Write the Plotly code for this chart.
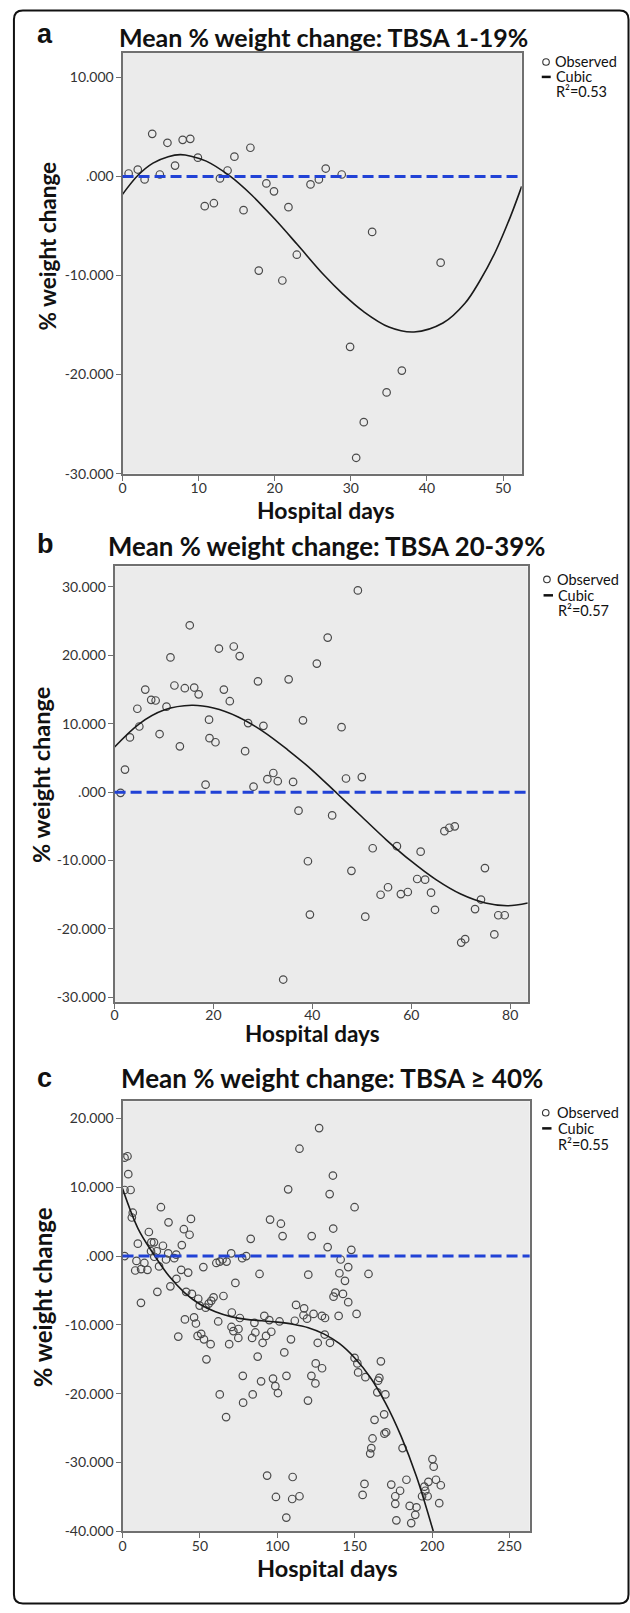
import plotly.graph_objects as go

W, H = 630, 1613

# ---------------- Panel a: TBSA 1-19% ----------------
days_a = [0.8, 2.0, 2.9, 3.9, 4.9, 5.9, 6.9, 7.9, 8.9, 9.9, 10.8, 12.0, 12.8, 13.8, 14.7,
          15.9, 16.8, 17.9, 18.9, 19.9, 21.0, 21.8, 22.9, 24.7, 25.8, 26.7, 28.8, 32.8,
          41.8, 29.9, 36.7, 34.7, 31.7, 30.7]
change_a = [0.3, 0.7, -0.3, 4.3, 0.2, 3.4, 1.1, 3.7, 3.8, 1.9, -3.0, -2.7, -0.2, 0.6, 2.0,
            -3.4, 2.9, -9.5, -0.7, -1.5, -10.5, -3.1, -7.9, -0.8, -0.3, 0.8, 0.2, -5.6,
            -8.7, -17.2, -19.6, -21.8, -24.8, -28.4]
curve_days_a = [0, 2, 4, 6, 7.6, 9, 11, 14, 17, 20, 23, 26.4, 29, 31.6, 35, 38.3, 42.1,
                45, 46.9, 49, 51, 52.45]
curve_a = [-1.8, 0.1, 1.35, 2.0, 2.2, 2.05, 1.55, 0.1, -1.9, -4.3, -6.9, -9.9, -11.9,
           -13.6, -15.2, -15.7, -14.8, -12.8, -10.6, -7.6, -4.0, -1.0]

# ---------------- Panel b: TBSA 20-39% ----------------
days_b = [1.2, 2.1, 3.1, 4.6, 5.0, 6.2, 7.4, 8.3, 9.1, 10.5, 11.3, 12.1, 13.2, 14.2, 15.2,
          16.1, 17.0, 18.4, 19.1, 19.2, 20.4, 21.1, 22.1, 23.3, 24.1, 25.3, 26.4, 27.0,
          28.1, 29.0, 30.1, 30.9, 32.1, 33.0, 35.2, 36.1, 37.2, 38.1, 40.9, 43.1, 44.0,
          45.9, 46.8, 49.2, 50.0,
          66.7, 67.7, 68.8, 52.2, 57.1, 61.9, 39.1, 47.9, 74.9, 61.2, 62.8, 55.3, 53.8,
          57.9, 59.3, 64.0, 74.1, 64.8, 72.9, 39.5, 50.7, 77.6, 78.9, 76.8, 70.1, 70.9,
          34.1]
change_b = [-0.1, 3.3, 8.0, 12.2, 9.6, 15.0, 13.5, 13.4, 8.5, 12.5, 19.7, 15.6, 6.7, 15.2,
            24.4, 15.3, 14.3, 1.1, 10.6, 7.9, 7.3, 21.0, 15.0, 13.3, 21.3, 19.9, 6.0, 10.1,
            0.8, 16.2, 9.7, 1.9, 2.8, 1.6, 16.5, 1.5, -2.7, 10.5, 18.8, 22.6, -3.4,
            9.5, 2.0, 29.5, 2.2,
            -5.7, -5.2, -5.0, -8.2, -7.9, -8.7, -10.1, -11.5, -11.1, -12.7, -12.8, -13.9,
            -15.0, -14.9, -14.6, -14.7, -15.7, -17.2, -17.1, -17.9, -18.2, -18.0, -18.0,
            -20.8, -22.0, -21.5, -27.4]
curve_days_b = [0, 5, 10, 15.6, 20, 25, 30, 35, 40, 45, 50, 55, 60, 65, 70, 75, 79.5, 83.56]
curve_b = [6.6, 10.0, 12.0, 12.7, 12.3, 11.0, 8.9, 6.2, 3.2, -0.2, -3.6, -7.0, -10.1,
           -12.8, -14.9, -16.2, -16.6, -16.2]

# ---------------- Panel c: TBSA >= 40% ----------------
days_c = [1.3, 3.2, 3.7, 1.3, 5.2, 6.6, 6.0, 9.9, 17.0, 18.6, 20.3, 24.8, 26.1, 29.7, 38.3,
          39.6, 43.3, 44.2,
          1.3, 9.0, 14.1, 18.4, 20.5, 22.1, 28.1, 29.5, 33.4, 34.7, 8.2, 12.0, 16.1, 23.6,
          37.9, 42.4, 52.2, 60.6, 62.8, 64.6, 67.2, 70.2, 77.3, 79.9, 82.8, 88.5,
          95.3, 102.3, 103.4, 107.0, 114.3, 120.0, 122.2, 127.0, 132.5, 133.8, 135.9, 136.1,
          140.9, 140.1, 143.7, 145.8, 147.8, 149.9, 158.9, 137.5, 136.3, 142.4, 145.8,
          139.6, 151.2,
          11.9, 22.5, 30.9, 34.8, 41.1, 44.8, 48.9, 49.8, 53.7, 55.7, 57.3, 58.8, 65.2,
          72.9, 61.8, 46.2, 47.4, 40.3, 36.0, 48.5, 50.8, 52.6, 56.9, 54.2, 68.9, 62.8,
          66.9, 70.6, 75.8, 85.2, 91.6, 94.8, 101.4, 111.3, 112.1, 117.3, 116.9, 119.2,
          123.4, 128.8, 130.8, 70.4, 71.6, 74.9, 74.8, 83.7, 85.8, 92.7, 96.1, 90.5, 108.8,
          104.5, 130.6, 126.1, 134.0, 87.3, 124.8, 128.9, 77.7, 89.5, 97.2, 98.7, 100.4,
          105.9, 122.0, 124.6, 84.1, 77.9, 119.8,
          93.4, 109.9, 99.1, 109.6, 114.3, 105.8,
          149.9, 151.7, 152.2, 156.9, 166.9, 165.9, 165.1, 164.6, 169.8, 169.0, 162.8,
          170.3, 169.2, 161.5, 160.7, 160.0, 180.9, 156.3, 155.1, 173.6, 176.2, 176.2,
          179.3, 176.9, 183.4, 185.5, 189.9, 189.1, 186.5, 193.5, 195.0, 195.6, 197.1,
          197.6, 200.2, 201.0, 202.5, 205.6, 204.6]
change_c = [14.3, 14.5, 11.9, 9.6, 9.6, 6.3, 5.6, 1.8, 3.5, 2.0, 2.0, 7.1, 1.5, 4.9, 1.6,
            3.9, 3.1, 5.4,
            0.0, -0.7, -1.0, 0.7, -0.1, 0.7, -0.5, 0.4, -0.3, 0.2, -2.1, -1.9, -2.0, -1.5,
            -2.0, -2.4, -1.6, -1.0, -0.8, -0.5, -0.8, 0.4, -0.3, 0.0, 2.5, -2.6,
            5.3, 4.7, 2.9, 9.7, 15.6, -2.7, 2.9, 18.6, 1.3, 9.0, 11.7, 4.0,
            -0.5, -2.5, -3.6, -1.6, 0.9, 7.1, -2.6, -5.3, -5.9, -5.5, -6.7,
            -8.7, -8.4,
            -6.8, -5.2, -4.4, -3.3, -5.2, -5.5, -6.2, -7.2, -7.5, -6.9, -6.5, -6.0, -5.8,
            -3.9, -9.5, -8.9, -9.8, -9.2, -11.7, -11.6, -11.3, -12.1, -12.8, -15.0, -12.8,
            -20.1, -23.4, -8.2, -9.0, -9.7, -8.7, -9.3, -9.5, -9.4, -7.1, -7.6, -8.6, -9.1,
            -8.4, -8.7, -9.0, -10.3, -10.9, -10.6, -11.9, -11.9, -11.1, -11.6, -11.0, -12.6,
            -12.1, -14.0, -11.4, -12.6, -12.6, -14.6, -15.6, -16.3, -17.4, -18.2, -17.8,
            -18.9, -19.9, -17.4, -17.4, -18.5, -20.1, -21.3, -21.0,
            -31.9, -32.1, -35.0, -35.3, -34.9, -38.0,
            -14.8, -15.6, -16.9, -17.6, -15.3, -17.7, -18.1, -19.8, -20.1, -23.0, -23.8,
            -25.6, -25.8, -26.5, -27.9, -28.7, -27.9, -33.1, -34.7, -33.2, -34.9, -36.0,
            -34.1, -38.4, -32.5, -36.3, -36.5, -37.6, -38.8, -34.9, -33.5, -34.1, -34.9,
            -32.8, -29.5, -30.6, -32.5, -33.3, -35.9]
curve_days_c = [0, 10, 20, 30, 40, 50, 60, 70, 80, 90, 100, 110, 120, 130, 140, 150, 160,
                170, 180, 190, 200, 202]
curve_c = [9.8, 4.0, 0.3, -2.9, -5.3, -7.0, -8.1, -8.8, -9.2, -9.4, -9.6, -9.9, -10.4,
           -11.3, -12.7, -14.8, -17.6, -21.4, -26.2, -32.1, -39.4, -41.0]

# reference value for the dashed line, axis ranges, ticks, legend text
REF_VALUE = 0
titles = ["Mean % weight change: TBSA 1-19%", "Mean % weight change: TBSA 20-39%",
          "Mean % weight change: TBSA \u2265 40%"]
panel_letters = ["a", "b", "c"]
r2_labels = ["R\u00b2=0.53", "R\u00b2=0.57", "R\u00b2=0.55"]
x_ranges = [[0, 52.45], [0, 83.56], [0, 263.0]]
y_ranges = [[-30, 12.46], [-30.64, 33.0], [-40, 22.5]]
x_ticks = [[0, 10, 20, 30, 40, 50], [0, 20, 40, 60, 80], [0, 50, 100, 150, 200, 250]]
y_ticks = [[-30, -20, -10, 0, 10], [-30, -20, -10, 0, 10, 20, 30], [-40, -30, -20, -10, 0, 10, 20]]


def ytext(v):
    if v == 0:
        return ".000"
    return "%d.000" % v


def px(x):
    return x / W


def py(y):
    return 1 - y / H


# plot-box pixel geometry (left, top, right, bottom)
boxes = [(119.3, 53.3, 521.0, 476.0), (111.3, 569.3, 527.1, 1006.7), (119.3, 1106.7, 529.0, 1539.0)]
xlabel_standoff = [-4, -6, -4]

fig = go.Figure()
DOTC = "#4a4a4a"
datasets = [(days_a, change_a, curve_days_a, curve_a),
            (days_b, change_b, curve_days_b, curve_b),
            (days_c, change_c, curve_days_c, curve_c)]
for i, (dx, dy, cx, cy) in enumerate(datasets):
    sfx = "" if i == 0 else str(i + 1)
    fig.add_trace(go.Scatter(x=dx, y=dy, mode="markers", xaxis="x" + sfx, yaxis="y" + sfx,
                             marker=dict(symbol="circle-open", size=7.5, color=DOTC,
                                         line=dict(width=1.2, color=DOTC)),
                             showlegend=False, hoverinfo="skip"))
    fig.add_trace(go.Scatter(x=cx, y=cy, mode="lines", xaxis="x" + sfx, yaxis="y" + sfx,
                             line=dict(color="#1a1a1a", width=1.6, shape="spline"),
                             showlegend=False, hoverinfo="skip"))

axis_common = dict(showline=True, mirror=True, linecolor="#707070", linewidth=2,
                   ticks="outside", ticklen=5, tickcolor="#707070", tickwidth=1.2,
                   showgrid=False, zeroline=False,
                   tickfont=dict(family="Lato", size=14, color="#333333"))

layout = dict(width=W, height=H, margin=dict(l=0, r=0, t=0, b=0),
              paper_bgcolor="white", plot_bgcolor="#EBEBEB", showlegend=False)
for i in range(3):
    l, t, r, b = boxes[i]
    sfx = "" if i == 0 else str(i + 1)
    layout["xaxis" + sfx] = dict(axis_common, domain=[px(l), px(r)], range=x_ranges[i],
                                 tickvals=x_ticks[i], ticktext=[str(v) for v in x_ticks[i]],
                                 anchor="y" + sfx, ticklabelstandoff=xlabel_standoff[i])
    layout["yaxis" + sfx] = dict(axis_common, domain=[py(b), py(t)], range=y_ranges[i],
                                 tickvals=y_ticks[i], ticktext=[ytext(v) for v in y_ticks[i]],
                                 anchor="x" + sfx, ticklabelstandoff=-1)
fig.update_layout(**layout)

shapes = []
annotations = []


def ann(text, x, y, size, family="Lato", xanchor="center", yanchor="middle", angle=0, color="#111111"):
    annotations.append(dict(text=text, x=px(x), y=py(y), xref="paper", yref="paper",
                            showarrow=False, xanchor=xanchor, yanchor=yanchor, textangle=angle,
                            font=dict(family=family, size=size, color=color)))


# dashed reference lines
for i in range(3):
    sfx = "" if i == 0 else str(i + 1)
    shapes.append(dict(type="line", xref="x%s domain" % sfx, yref="y" + sfx, x0=0, x1=1,
                       y0=REF_VALUE, y1=REF_VALUE,
                       line=dict(color="#2142D6", width=3, dash="11px,5px")))

# panel letters, titles, axis titles
letter_pos = [(31, 34.0), (31, 546.6), (31, 1083.6)]
title_pos = [(322, 37.3, 25), (325, 548.3, 25.8), (330, 1083, 26)]
ytitle_pos = [(43.5, 247.5, 22.5), (37, 779, 23.5), (39, 1304, 24)]
xtitle_pos = [(324.5, 512.5, 23), (310.5, 1038.5, 22.5), (325.5, 1576.0, 23.5)]
# legend geometry: circle center, dash x0/x1, text x, rows y
legend_geo = [
    dict(cx=545.5, text_x=552.5, dash=(541.2, 550.2), rows=(62.3, 77.3, 91.7)),
    dict(cx=546.4, text_x=554.4, dash=(543.0, 552.5), rows=(582.3, 598.3, 614.0)),
    dict(cx=545.2, text_x=554.4, dash=(541.6, 551.0), rows=(1118.3, 1134.0, 1150.7)),
]
for i in range(3):
    lx, ly = letter_pos[i]
    ann("<b>%s</b>" % panel_letters[i], lx, ly, 27, family="Liberation Sans", xanchor="left")
    tx, ty, ts = title_pos[i]
    ann("<b>%s</b>" % titles[i], tx, ty, ts)
    yx, yy, ys = ytitle_pos[i]
    ann("<b>% weight change</b>", yx, yy, ys, angle=-90)
    xx, xy, xs = xtitle_pos[i]
    ann("<b>Hospital days</b>", xx, xy, xs)
    g = legend_geo[i]
    r0, r1, r2 = g["rows"]
    rad = 3.3
    shapes.append(dict(type="circle", xref="paper", yref="paper",
                       x0=px(g["cx"] - rad), x1=px(g["cx"] + rad),
                       y0=py(r0 + rad), y1=py(r0 - rad),
                       line=dict(color="#333333", width=1.1)))
    shapes.append(dict(type="line", xref="paper", yref="paper",
                       x0=px(g["dash"][0]), x1=px(g["dash"][1]), y0=py(r1), y1=py(r1),
                       line=dict(color="#111111", width=2.5)))
    ann("Observed", g["text_x"], r0, 14.5, xanchor="left")
    ann("Cubic", g["text_x"] + 1, r1, 14.5, xanchor="left")
    ann(r2_labels[i], g["text_x"] + 1.5, r2, 14.5, xanchor="left")

# outer rounded frame
x0, x1, y0, y1 = px(10), px(628.5), py(1611.5), py(10.5)
rx, ry = 9 / W, 9 / H
path = ("M %f,%f L %f,%f Q %f,%f %f,%f L %f,%f Q %f,%f %f,%f L %f,%f Q %f,%f %f,%f L %f,%f Q %f,%f %f,%f Z" % (
    x0 + rx, y1, x1 - rx, y1, x1, y1, x1, y1 - ry, x1, y0 + ry, x1, y0, x1 - rx, y0,
    x0 + rx, y0, x0, y0, x0, y0 + ry, x0, y1 - ry, x0, y1, x0 + rx, y1))
shapes.append(dict(type="path", xref="paper", yref="paper", path=path,
                   line=dict(color="#111111", width=2)))

fig.update_layout(shapes=shapes, annotations=annotations)
fig.write_html("out.html", config={"displayModeBar": False},
               post_script="document.body.style.margin='0';document.body.style.overflow='hidden';")
